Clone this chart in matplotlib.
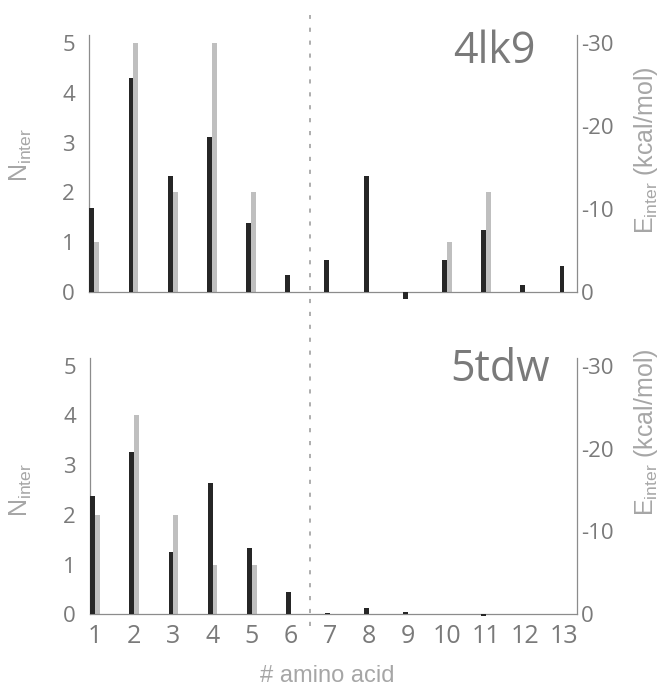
import matplotlib
matplotlib.use("Agg")
import matplotlib.pyplot as plt
import numpy as np

plt.rcParams["font.family"] = ["Open Sans", "DejaVu Sans"]
plt.rcParams["mathtext.fontset"] = "custom"
plt.rcParams["mathtext.rm"] = "Liberation Sans"
plt.rcParams["lines.scale_dashes"] = False

AMINO = np.arange(1, 14)

# 4lk9
N_4LK9 = [1, 5, 2, 5, 2, 0, 0, 0, 0, 1, 2, 0, 0]
E_4LK9 = [-10.1, -25.8, -14.0, -18.7, -8.3, -2.1, -3.9, -14.0, 0.8, -3.8, -7.5, -0.9, -3.1]

# 5tdw
N_5TDW = [2, 4, 2, 1, 1, 0, 0, 0, 0, 0, 0, 0, 0]
E_5TDW = [-14.3, -19.6, -7.5, -15.8, -8.0, -2.7, -0.2, -0.8, -0.3, 0.0, 0.2, 0.0, 0.0]

N_TICKS = [0, 1, 2, 3, 4, 5]
E_TICKS = [0, -10, -20, -30]

BLACK = "#262626"
GREY = "#bfbfbf"
TICK_C = "#7a7a7a"
LABEL_C = "#a6a6a6"
SPINE_C = "#8c8c8c"

W = 0.125
XLIM = (0.865, 13.32)
NMAX = 5.16


def panel(rect, n, e, name, name_xy, show_x):
    ax = fig.add_axes(rect)
    ax.patch.set_visible(False)
    ax2 = ax.twinx()

    ax.bar(AMINO + W / 2, n, width=W, color=GREY, zorder=2, clip_on=False)
    ax2.bar(AMINO - W / 2, e, width=W, color=BLACK, zorder=2, clip_on=False)

    ax.set_xlim(XLIM)
    ax.set_ylim(0, NMAX)
    ax2.set_ylim(0, -NMAX * 6)
    ax.set_yticks(N_TICKS)
    ax2.set_yticks(E_TICKS)
    ax2.set_yticklabels([str(t) for t in E_TICKS])

    for a in (ax, ax2):
        for s in a.spines.values():
            s.set_visible(False)
    ax.spines["left"].set_visible(True)
    ax.spines["bottom"].set_visible(True)
    ax2.spines["right"].set_visible(True)
    for s in (ax.spines["left"], ax.spines["bottom"], ax2.spines["right"]):
        s.set_color(SPINE_C)
        s.set_linewidth(0.9)

    ax.tick_params(axis="y", length=0, pad=10, labelsize=16, labelcolor=TICK_C)
    ax2.tick_params(axis="y", length=0, pad=3, labelsize=16, labelcolor=TICK_C)
    ax.set_xticks(AMINO)
    if show_x:
        ax.tick_params(axis="x", length=0, pad=7, labelsize=18, labelcolor=TICK_C)
    else:
        ax.tick_params(axis="x", length=0, labelbottom=False)

    ax.text(name_xy[0], name_xy[1], name, transform=ax.transAxes,
            ha="right", va="baseline", fontsize=31, color="#7a7a7a")
    return ax


fig = plt.figure(figsize=(6.6, 6.88), dpi=100)

ax_top = panel([89 / 660, 1 - 292 / 688, 488 / 660, 257 / 688],
               N_4LK9, E_4LK9, "4lk9", (0.914, 0.891), False)
ax_bot = panel([90 / 660, 1 - 614.3 / 688, 487 / 660, 256.6 / 688],
               N_5TDW, E_5TDW, "5tdw", (0.945, 0.909), True)

# dotted separator between residues 6 and 7, across both panels
ax_top.axvline(6.5, ymin=-1.30, ymax=1.078, clip_on=False, color="#a0a0a0",
               lw=1.2, dashes=(3, 6.3), zorder=5)

n_lab = r"N$_{\mathregular{inter}}$"
e_lab = r"E$_{\mathregular{inter}}$ (kcal/mol)"
lab_font = ["Liberation Sans", "DejaVu Sans"]
fig.text(21 / 660, 1 - 155 / 688, n_lab, rotation=90, ha="center", va="center",
         fontsize=18, color=LABEL_C, family=lab_font)
fig.text(21 / 660, 1 - 490 / 688, n_lab, rotation=90, ha="center", va="center",
         fontsize=18, color=LABEL_C, family=lab_font)
fig.text(646 / 660, 1 - 150 / 688, e_lab, rotation=90, ha="center", va="center",
         fontsize=18, color=LABEL_C, family=lab_font)
fig.text(646 / 660, 1 - 432 / 688, e_lab, rotation=90, ha="center", va="center",
         fontsize=18, color=LABEL_C, family=lab_font)

fig.text(327 / 660, 1 - 676 / 688, "# amino acid", ha="center", va="center",
         fontsize=17, color=LABEL_C, family=lab_font)

fig.savefig("out.png", dpi=100)
